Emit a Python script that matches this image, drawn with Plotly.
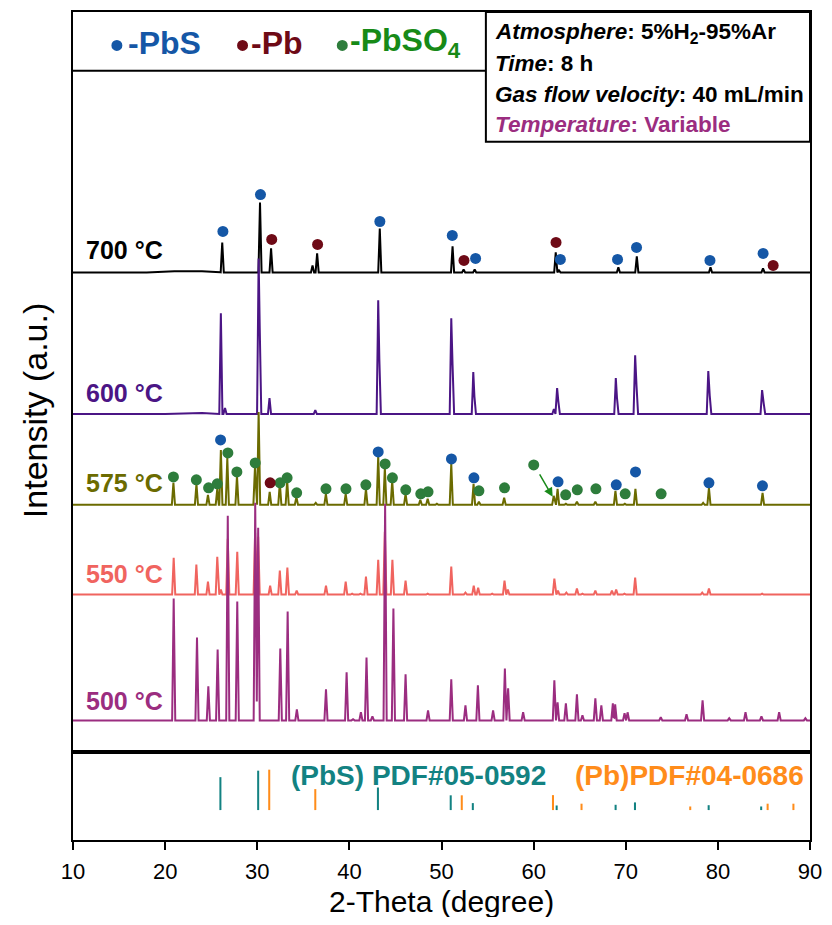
import numpy as np
import plotly.graph_objects as go

# ---------------- DATA (intensity units are stacked/offset a.u.) ----------------
# 700 °C
b700_x = [10, 14, 18, 21, 24, 26, 29, 32, 35, 38, 43, 50, 60, 90]
b700_y = [471, 472, 478, 482, 482, 481, 480, 477, 474, 471, 469, 469, 468, 468]
p700_x = [26.2, 30.3, 31.5, 36.0, 36.5, 43.3, 48.9, 51.2, 52.4, 53.6, 62.4, 62.75, 65.4,
          69.2, 71.2, 77.2, 79.2, 84.9, 85.4, 88.5]
p700_y = [511, 551, 505, 488, 500, 525, 472, 507, 484, 484, 501, 483, 474,
          486, 497, 473, 486, 485, 478, 475]

# 600 °C
b600_x = [10, 15, 20, 24, 28, 32, 36, 42, 90]
b600_y = [333, 334, 338, 340, 338, 335, 333.5, 332.5, 332]
p600_x = [26.05, 26.5, 30.15, 30.27, 31.33, 36.3, 43.13, 43.25, 51.06, 51.2, 52.25, 53.45,
          53.57, 62.2, 62.55, 62.68, 65.3, 68.92, 69.05, 71.02, 71.17, 78.96, 79.12,
          84.8, 84.97, 88.3]
p600_y = [440, 345, 495, 425, 355, 343, 453, 395, 435, 388, 338, 381,
          357, 344, 365, 352, 335, 375, 355, 398, 367, 382, 357,
          363, 350, 335]

# 575 °C
b575_x = [10, 15, 20, 24, 29, 32, 38, 50, 90]
b575_y = [243, 244, 247, 248, 248, 246, 244, 243, 242]
p575_x = [20.9, 23.4, 24.65, 25.66, 26.05, 26.75, 27.8, 29.75, 30.15, 31.35, 32.45, 33.25,
          34.25, 36.35, 37.45, 39.6, 41.8, 43.13, 43.85, 44.65, 46.1, 47.7, 48.5, 49.5,
          51.06, 53.48, 54.06, 55.1, 56.8, 58.75, 62.18, 62.6, 63.5, 64.7, 66.7, 68.88,
          69.9, 71.05, 73.8, 78.4, 79.03, 84.85, 86.7]
p575_y = [270, 269, 258, 264, 303, 295, 277, 285, 341, 261, 270, 272,
          256, 250, 259, 259, 264, 297, 285, 272, 259, 253, 254, 249,
          289, 269, 251, 248, 255, 248, 257, 264, 249, 251, 251, 262,
          249, 264, 246, 250, 265, 260, 246]

# 550 °C
b550_x = [10, 15, 20, 25, 29, 32, 35, 40, 90]
b550_y = [152, 153, 157, 158, 158, 155.5, 153, 152, 152]
p550_x = [20.93, 23.39, 24.65, 25.66, 26.05, 26.8, 27.83, 29.77, 30.1, 31.4, 32.45, 33.27,
          34.28, 36.38, 37.46, 39.6, 40.3, 41.2, 41.8, 43.13, 43.85, 44.67, 46.1, 47.7,
          48.5, 51.06, 52.6, 53.5, 53.98, 55.5, 56.84, 57.2, 58.85, 62.25, 62.64, 63.55,
          64.7, 65.3, 66.7, 67.4, 68.5, 68.96, 69.86, 71.02, 73.84, 76.6, 78.3, 79.03,
          81.23, 83.0, 84.8, 86.65, 89.5]
p550_y = [195, 188, 171, 196, 163, 214, 201, 220, 216, 167, 182, 185,
          162, 157, 167, 171, 159, 159, 176, 193, 221, 193, 172, 158,
          159, 186, 160, 167, 165, 159, 172, 163, 157, 174, 162, 160,
          164, 159, 162, 157, 162, 163, 159, 175, 156, 155, 160, 164,
          155, 156, 159, 156, 155]

# 500 °C
b500_x = [10, 15, 20, 24, 28, 31.5, 35, 41, 55, 90]
b500_y = [21, 25, 31, 32, 30.5, 25.5, 22, 21, 20, 18.7]
p500_x = [20.93, 23.46, 24.69, 25.7, 26.8, 27.83, 29.78, 30.1, 32.5, 33.3, 34.3, 37.46,
          38.3, 39.7, 40.4, 41.25, 41.86, 42.5, 43.88, 44.78, 46.1, 47.8, 48.54, 51.06,
          52.6, 53.5, 53.95, 55.6, 56.88, 57.23, 58.86, 60.1, 62.25, 62.6, 63.5, 64.7,
          65.3, 66.7, 67.35, 68.6, 68.85, 69.87, 70.2, 71.1, 72.46, 73.8, 74.74, 76.6,
          77.5, 78.34, 80.04, 81.23, 83.0, 84.73, 86.65, 87.97, 89.5]
p500_y = [154, 115, 66, 103, 237, 151, 250, 225, 104, 141, 43, 63,
          25, 80, 33, 40, 95, 36, 249, 144, 78, 31, 42, 73,
          47, 28, 67, 42, 84, 64, 40, 24, 72, 50, 49, 58,
          37, 54, 47, 49, 48, 39, 40, 32, 26, 35, 32, 38,
          26, 52, 24, 34, 40, 36, 40, 25, 34]

# phase markers (2-theta, stacked intensity)
pbs_mk_x = [26.27, 30.35, 43.31, 51.17, 53.70, 62.90, 69.11, 71.17, 79.14, 84.91,
            26.02, 43.13, 51.08, 53.52, 62.65, 68.97, 71.06, 79.03, 84.84]
pbs_mk_y = [522, 559, 532, 518, 495, 494, 494, 506, 493, 500,
            313, 301, 294, 275, 271, 268, 281, 270, 267]
pb_mk_x = [31.57, 36.55, 52.44, 62.43, 86.0, 31.40]
pb_mk_y = [514, 509, 493, 511, 488, 270]
pbso4_mk_x = [20.90, 23.39, 24.72, 25.66, 26.81, 27.79, 29.78, 32.48, 33.24, 34.28, 37.46,
              39.63, 41.79, 43.88, 44.67, 46.12, 47.75, 48.54, 54.06, 56.84, 60.01, 63.48,
              64.74, 66.76, 69.94, 73.84]
pbso4_mk_y = [276, 273, 265, 269, 300, 281, 290, 270, 275, 260, 264,
              264, 268, 289, 275, 263, 259, 261, 262, 265, 288, 258,
              263, 264, 259, 259]

# reference patterns (bottom panel)
ref_pbs_x = [26.0, 30.1, 43.1, 51.0, 53.4, 62.5, 68.9, 71.0, 79.0, 84.7]
ref_pbs_i = [33, 39.5, 22.6, 14.8, 7, 4.6, 5.3, 7.7, 4.9, 3.6]
ref_pb_x = [31.3, 36.3, 52.2, 62.1, 65.2, 77.0, 85.4, 88.2]
ref_pb_i = [40.5, 21, 14.8, 15, 6.4, 3.6, 6.4, 6.4]
ref_base = 30

x_ticks = [10, 20, 30, 40, 50, 60, 70, 80, 90]

# ---------------- styling ----------------
FONT = "Arial, Liberation Sans, sans-serif"
C700, C600, C575, C550, C500 = "#000000", "#4b1585", "#6b6b00", "#f0645f", "#9b2d80"
C_PBS, C_PB, C_SO4 = "#1557a6", "#6e0a16", "#2e7d3c"
C_PBS_T, C_PB_T, C_SO4_T = "#1557a6", "#6e0a16", "#178a17"
C_REF_PBS, C_REF_PB = "#138282", "#ff8c1a"


def build_curve(bx, by, pxs, pys, hw=0.17):
    xs = set(bx)
    for p in pxs:
        xs.update([p - hw, p, p + hw])
    xs = np.array(sorted(x for x in xs if 10 <= x <= 90))
    ys = np.interp(xs, bx, by)
    for p, h in zip(pxs, pys):
        b = np.interp(p, bx, by)
        tri = b + (h - b) * np.clip(1 - np.abs(xs - p) / hw, 0, None)
        ys = np.maximum(ys, tri)
    return xs, ys


fig = go.Figure()
for bx, by, pxs, pys, col in [
    (b700_x, b700_y, p700_x, p700_y, C700),
    (b600_x, b600_y, p600_x, p600_y, C600),
    (b575_x, b575_y, p575_x, p575_y, C575),
    (b550_x, b550_y, p550_x, p550_y, C550),
    (b500_x, b500_y, p500_x, p500_y, C500),
]:
    xs, ys = build_curve(bx, by, pxs, pys)
    fig.add_trace(go.Scatter(x=xs, y=ys, mode="lines", line=dict(color=col, width=2),
                             xaxis="x", yaxis="y", hoverinfo="skip"))

for mx, my, col in [(pbso4_mk_x, pbso4_mk_y, C_SO4), (pb_mk_x, pb_mk_y, C_PB),
                    (pbs_mk_x, pbs_mk_y, C_PBS)]:
    fig.add_trace(go.Scatter(x=mx, y=my, mode="markers",
                             marker=dict(color=col, size=11, line=dict(width=0)),
                             xaxis="x", yaxis="y", hoverinfo="skip"))

fig.add_trace(go.Bar(x=ref_pbs_x, y=ref_pbs_i, base=ref_base, width=0.22,
                     marker=dict(color=C_REF_PBS, line=dict(width=0)),
                     xaxis="x2", yaxis="y2"))
fig.add_trace(go.Bar(x=ref_pb_x, y=ref_pb_i, base=ref_base, width=0.22,
                     marker=dict(color=C_REF_PB, line=dict(width=0)),
                     xaxis="x2", yaxis="y2"))

# page geometry (the page body has an 8px margin)
OFF = 8
PAGE_W, PAGE_H = 832, 925
L, R, T, B = 73, 812, 10, 840
W, H = PAGE_W - 2 * OFF, PAGE_H - 2 * OFF


def pxx(v):
    return (v - L) / (R - L)


def pxy(v):
    return (B - v) / (B - T)


split = (B - 752) / (B - T)

axis_common = dict(showgrid=False, zeroline=False, showline=True, mirror=True,
                   linecolor="black", linewidth=2)
fig.update_layout(
    width=W, height=H,
    margin=dict(l=L - OFF, r=W - (R - OFF), t=T - OFF, b=H - (B - OFF)),
    paper_bgcolor="white", plot_bgcolor="white",
    showlegend=False, barmode="overlay",
    font=dict(family=FONT, color="black"),
    xaxis=dict(domain=[0, 1], anchor="y", range=[10, 90], showticklabels=False,
               ticks="", **axis_common),
    yaxis=dict(domain=[split, 1], anchor="x", range=[0, 742], showticklabels=False,
               ticks="", **axis_common),
    xaxis2=dict(domain=[0, 1], anchor="y2", range=[10, 90], tickvals=x_ticks,
                ticks="outside", ticklen=8, tickwidth=2, tickcolor="black",
                ticklabelstandoff=3, ticklabeloverflow="allow",
                tickfont=dict(size=22, family=FONT), **axis_common),
    yaxis2=dict(domain=[0, split], anchor="x2", range=[0, 88], showticklabels=False,
                ticks="", **axis_common),
)

ann = []
# axis titles
ann.append(dict(text="Intensity (a.u.)", x=pxx(35), y=pxy(410), xref="paper", yref="paper",
                textangle=-90, showarrow=False, font=dict(size=34, family=FONT),
                xanchor="center", yanchor="middle"))
ann.append(dict(text="2-Theta (degree)", x=pxx(443), y=pxy(902), xref="paper", yref="paper",
                showarrow=False, font=dict(size=30, family=FONT),
                xanchor="center", yanchor="middle"))
# temperature labels
for txt, yy, col in [("700 °C", 249, C700), ("600 °C", 392, C600), ("575 °C", 482, C575),
                     ("550 °C", 573, C550), ("500 °C", 701, C500)]:
    ann.append(dict(text=f"<b>{txt}</b>", x=pxx(84), y=pxy(yy), xref="paper", yref="paper",
                    showarrow=False, xanchor="left", yanchor="middle",
                    font=dict(size=25, color=col, family=FONT)))
# phase legend: dot shapes + text
legend_items = [("-PbS", 117, 126, C_PBS, C_PBS_T),
                ("-Pb", 243, 249, C_PB, C_PB_T),
                ("-PbSO<sub>4</sub>", 343, 349, C_SO4, C_SO4_T)]
shapes = []
for txt, cx, tx, mcol, tcol in legend_items:
    ann.append(dict(text=f"<b>{txt}</b>", x=pxx(tx), y=pxy(41), xref="paper", yref="paper",
                    showarrow=False, xanchor="left", yanchor="middle",
                    font=dict(size=32, color=tcol, family=FONT)))
    r = 5.5
    shapes.append(dict(type="circle", xref="paper", yref="paper",
                       x0=pxx(cx - r), x1=pxx(cx + r), y0=pxy(43.5 + r), y1=pxy(43.5 - r),
                       fillcolor=mcol, line=dict(width=0)))
# condition box
lines = [("<b><i>Atmosphere</i>: 5%H<sub>2</sub>-95%Ar</b>", 31, "black"),
         ("<b><i>Time</i>: 8 h</b>", 62, "black"),
         ("<b><i>Gas flow velocity</i>: 40 mL/min</b>", 93, "black"),
         ("<b><i>Temperature</i>: Variable</b>", 123, C500)]
for txt, yy, col in lines:
    ann.append(dict(text=txt, x=pxx(494), y=pxy(yy), xref="paper", yref="paper",
                    showarrow=False, xanchor="left", yanchor="middle",
                    font=dict(size=22.5, color=col, family=FONT)))
# reference labels
ann.append(dict(text="<b>(PbS) PDF#05-0592</b>", x=pxx(419), y=pxy(775), xref="paper",
                yref="paper", showarrow=False, xanchor="center", yanchor="middle",
                font=dict(size=28, color=C_REF_PBS, family=FONT)))
ann.append(dict(text="<b>(Pb)PDF#04-0686</b>", x=pxx(808), y=pxy(775), xref="paper",
                yref="paper", showarrow=False, xanchor="right", yanchor="middle",
                font=dict(size=28, color=C_REF_PB, family=FONT)))
# arrow for PbSO4 peak
ann.append(dict(x=62.07, y=256, ax=60.56, ay=280, xref="x", yref="y", axref="x", ayref="y",
                text="", showarrow=True, arrowhead=2, arrowsize=1.2, arrowwidth=1.5,
                arrowcolor="#1a8a1a"))
fig.update_layout(annotations=ann)

shapes += [
    dict(type="line", xref="paper", yref="paper", x0=0, x1=pxx(487), y0=pxy(69), y1=pxy(69),
         line=dict(color="black", width=2)),
    dict(type="rect", xref="paper", yref="paper", x0=pxx(487), x1=1, y0=pxy(140), y1=1,
         line=dict(color="black", width=2), fillcolor="rgba(0,0,0,0)"),
]
fig.update_layout(shapes=shapes)

fig.write_html("out.html")
